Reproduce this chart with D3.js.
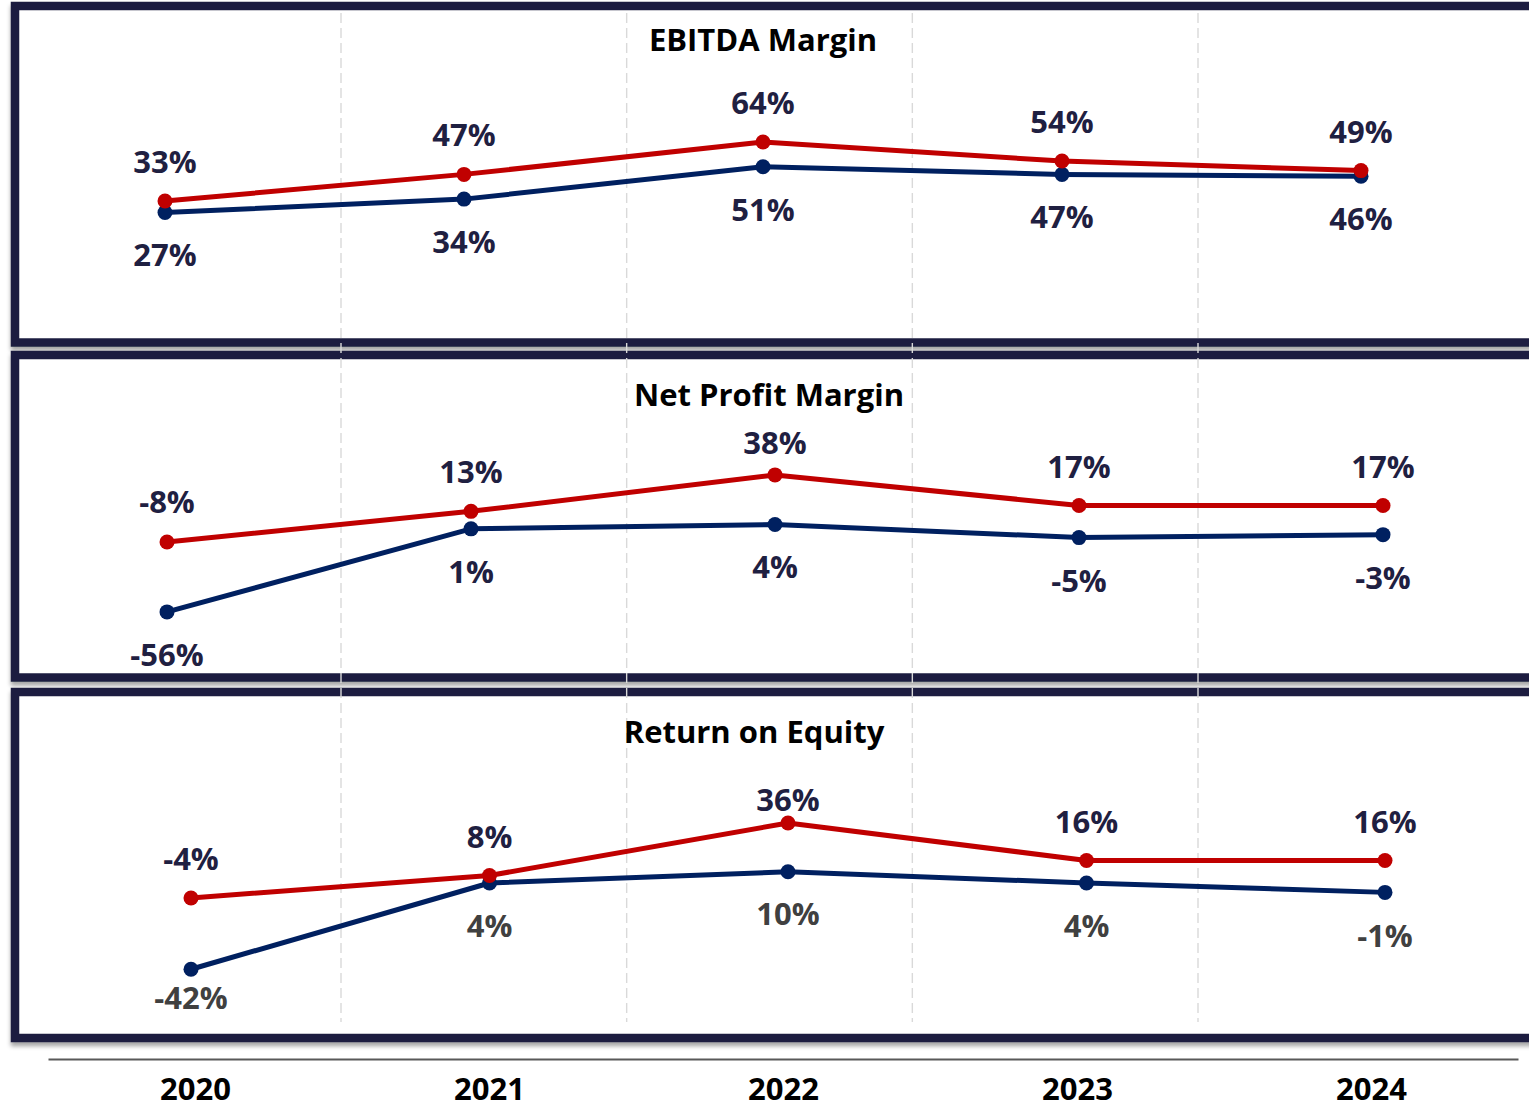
<!DOCTYPE html>
<html>
<head>
<meta charset="utf-8">
<script src="https://cdn.jsdelivr.net/npm/d3@7"></script>
<style>
  html, body { margin: 0; padding: 0; background: #ffffff; overflow: hidden; }
  svg { display: block; }
  text { font-family: "Open Sans", "Noto Sans", sans-serif; font-weight: 700; }
</style>
</head>
<body>
<svg id="chart" width="1529" height="1110"></svg>
<script>
// Years on the shared category axis
const years = ["2020", "2021", "2022", "2023", "2024"];

// EBITDA Margin (%)
const ebitdaRed  = [33, 47, 64, 54, 49];
const ebitdaNavy = [27, 34, 51, 47, 46];

// Net Profit Margin (%)
const netRed  = [-8, 13, 38, 17, 17];
const netNavy = [-56, 1, 4, -5, -3];

// Return on Equity (%)
const roeRed  = [-4, 8, 36, 16, 16];
const roeNavy = [-42, 4, 10, 4, -1];

const panelTitles = ["EBITDA Margin", "Net Profit Margin", "Return on Equity"];

// Layout of the three framed panels
const panels = [
  { title: panelTitles[0], red: ebitdaRed, navy: ebitdaNavy,
    frame: [6, 342.5], xr: [165, 1361], yd: [-30, 110], yr: [320.9, 54.5],
    titleX: 763, titleY: 51, navyLabelColor: "#1f2041",
    redOff: [-28, -28, -28, -28, -28], navyOff: [54, 54, 54, 54, 54] },
  { title: panelTitles[1], red: netRed, navy: netNavy,
    frame: [355, 677.5], xr: [167, 1383], yd: [-80, 80], yr: [646.9, 413.7],
    titleX: 769, titleY: 406, navyLabelColor: "#1f2041",
    redOff: [-29, -28, -21, -28, -28], navyOff: [54, 54, 54, 54, 54] },
  { title: panelTitles[2], red: roeRed, navy: roeNavy,
    frame: [692, 1038], xr: [191, 1385], yd: [-60, 80], yr: [1003, 740.5],
    titleX: 754, titleY: 743, navyLabelColor: "#404040",
    redOff: [-28, -28, -12, -28, -28], navyOff: [40, 54, 53, 54, 55] }
];

const RED = "#c00000";
const NAVY = "#002060";
const FRAME = "#1d1f3f";
const LABEL = "#1f2041";

const svg = d3.select("#chart");
const defs = svg.append("defs");
const shadow = defs.append("filter").attr("id", "shadow")
  .attr("x", "-5%").attr("y", "-5%").attr("width", "110%").attr("height", "115%");
shadow.append("feDropShadow").attr("dx", 0).attr("dy", 4).attr("stdDeviation", 2)
  .attr("flood-color", "#000").attr("flood-opacity", 0.35);

// Panel frames
panels.forEach(p => {
  svg.append("rect")
    .attr("x", 15).attr("y", p.frame[0])
    .attr("width", 1560).attr("height", p.frame[1] - p.frame[0])
    .attr("fill", "#ffffff")
    .attr("stroke", FRAME).attr("stroke-width", 8.5)
    .attr("filter", "url(#shadow)");
});

// Dashed separators between the year columns
const gapIndex = [0.5, 1.5, 2.5, 3.5];
const gx = d3.scaleLinear().domain([0.5, 3.5]).range([341, 1198]);
svg.append("g").selectAll("line").data(gapIndex).join("line")
  .attr("x1", d => gx(d)).attr("x2", d => gx(d))
  .attr("y1", 13).attr("y2", 1022)
  .attr("stroke", "#d9d9d9").attr("stroke-width", 1.4)
  .attr("stroke-dasharray", "10,5");

panels.forEach(p => {
  const g = svg.append("g");
  const x = d3.scalePoint().domain(years).range(p.xr);
  const y = d3.scaleLinear().domain(p.yd).range(p.yr);

  g.append("text")
    .attr("x", p.titleX).attr("y", p.titleY)
    .attr("text-anchor", "middle")
    .attr("font-size", 31).attr("fill", "#000000")
    .text(p.title);

  const series = [
    { vals: p.navy, color: NAVY, off: p.navyOff, labelColor: p.navyLabelColor },
    { vals: p.red, color: RED, off: p.redOff, labelColor: LABEL }
  ];

  series.forEach(s => {
    const pts = years.map((yr, i) => ({ yr, v: s.vals[i], off: s.off[i] }));
    const line = d3.line().x(d => x(d.yr)).y(d => y(d.v));
    g.append("path").datum(pts)
      .attr("d", line)
      .attr("fill", "none").attr("stroke", s.color)
      .attr("stroke-width", 5).attr("stroke-linejoin", "round");
    g.append("g").selectAll("circle").data(pts).join("circle")
      .attr("cx", d => x(d.yr)).attr("cy", d => y(d.v))
      .attr("r", 7.5).attr("fill", s.color);
  });

  series.forEach(s => {
    const pts = years.map((yr, i) => ({ yr, v: s.vals[i], off: s.off[i] }));
    g.append("g").selectAll("text").data(pts).join("text")
      .attr("x", d => x(d.yr)).attr("y", d => y(d.v) + d.off)
      .attr("text-anchor", "middle")
      .attr("font-size", 31).attr("fill", s.labelColor)
      .text(d => d.v + "%");
  });
});

// Shared year axis along the bottom
const xAxisScale = d3.scalePoint().domain(years).range([48, 1518]).padding(0.5);
const axis = svg.append("g")
  .attr("transform", "translate(0,1059)")
  .call(d3.axisBottom(xAxisScale).tickSize(0).tickSizeOuter(0));
axis.select(".domain").attr("stroke", "#595959").attr("stroke-width", 2);
axis.selectAll(".tick text")
  .attr("dy", 0).attr("y", 41)
  .attr("font-size", 31).attr("fill", "#000000")
  .style("font-family", "'Open Sans', sans-serif").style("font-weight", 700);
</script>
</body>
</html>
